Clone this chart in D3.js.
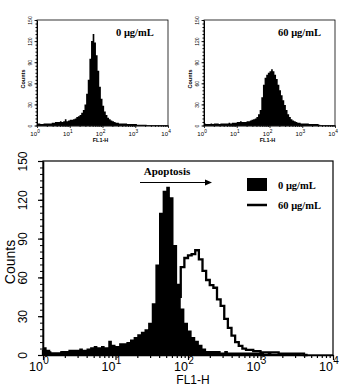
<!DOCTYPE html>
<html>
<head>
<meta charset="utf-8">
<script src="https://cdn.jsdelivr.net/npm/d3@7/dist/d3.min.js"></script>
<style>
  body { margin: 0; background: #fff; }
  svg { display: block; }
</style>
</head>
<body>
<svg id="chart"></svg>
<script>
// each bin is 0.05 decade wide, first bin starts at 10^0
const binStep = 0.05;
const yTicks = [0, 30, 60, 90, 120, 150];
const xDecades = [0, 1, 2, 3, 4];

// top left panel, 0 ug/mL
const ctrlSmall = [3, 3, 2, 2, 3, 3, 3, 3, 3, 4, 4, 5, 5, 5, 6, 5, 6, 9, 6, 7,
    8, 8, 9, 10, 12, 13, 15, 18, 22, 30, 45, 65, 95, 120, 130, 118, 100, 78, 55, 38,
    28, 20, 15, 11, 9, 7, 6, 5, 4, 4, 3, 3, 3, 3, 3, 2, 2, 2, 2, 2,
    2, 1, 1, 1, 1, 1, 1, 0];
// top right panel, 60 ug/mL
const treatedSmall = [3, 2, 2, 2, 3, 2, 3, 3, 3, 2, 3, 3, 3, 3, 3, 4, 3, 4, 4, 4,
    5, 5, 6, 5, 5, 5, 6, 6, 7, 8, 9, 10, 12, 16, 22, 40, 58, 68, 72, 75,
    77, 80, 77, 72, 66, 58, 50, 43, 36, 29, 22, 16, 12, 9, 7, 6, 5, 4, 4, 3,
    3, 3, 3, 3, 2, 2, 2, 2, 2, 2, 1, 0];
// bottom panel, overlay
const ctrlMain = [6, 4, 2, 2, 2, 3, 3, 4, 4, 4, 5, 4, 5, 6, 7, 6, 7, 6, 11, 8,
    7, 9, 9, 10, 12, 14, 16, 18, 20, 25, 40, 70, 110, 127, 130, 122, 85, 55, 36, 25,
    19, 14, 11, 8, 5, 3, 3, 3, 3, 2, 3, 2, 2, 2, 2, 2, 2, 2, 2, 2,
    2, 1, 2, 1, 1, 1, 1, 1, 1, 1, 1, 0];
const treatedMain = [3, 2, 1, 1, 1, 2, 2, 2, 2, 2, 3, 2, 3, 3, 3, 3, 3, 3, 4, 4,
    4, 4, 5, 5, 6, 7, 8, 10, 12, 14, 15, 22, 30, 36, 40, 43, 44, 45, 68, 75,
    77, 78, 81, 74, 65, 58, 54, 52, 43, 38, 28, 21, 15, 10, 7, 5, 4, 4, 3, 3,
    2, 2, 2, 2, 2, 1, 1, 1, 1, 1, 1, 1, 0];
const legendLabels = ["0 \u03bcg/mL", "60 \u03bcg/mL"];

const narrow = "'Liberation Sans Narrow', 'Arial Narrow', 'Liberation Sans', Arial, sans-serif";
const sans = "'Liberation Sans', Arial, sans-serif";
const serif = "'Liberation Serif', 'Times New Roman', serif";

const svg = d3.select("#chart").attr("width", 346).attr("height", 390);
svg.append("rect").attr("width", 346).attr("height", 390).attr("fill", "#fff");

function histPath(counts, x, y) {
    const pts = [[x(1), y(0)]];
    counts.forEach((c, i) => {
        pts.push([x(Math.pow(10, i * binStep)), y(c)]);
        pts.push([x(Math.pow(10, (i + 1) * binStep)), y(c)]);
    });
    pts.push([x(Math.pow(10, counts.length * binStep)), y(0)]);
    return d3.line()(pts);
}

function drawPanel(cfg) {
    const g = svg.append("g");
    const x = d3.scaleLog().domain([1, 1e4]).range([cfg.left, cfg.right]);
    const y = d3.scaleLinear().domain([0, 150]).range([cfg.bottom, cfg.top]);

    // frame
    g.append("rect")
        .attr("x", cfg.left).attr("y", cfg.top)
        .attr("width", cfg.right - cfg.left).attr("height", cfg.bottom - cfg.top)
        .attr("fill", "none").attr("stroke", "#000").attr("stroke-width", cfg.frame);

    // y axis: minor then major
    const yMinor = d3.axisLeft(y).tickValues(d3.range(0, 151, 5)).tickFormat("")
        .tickSize(cfg.minorLen).tickSizeOuter(0);
    const yMajor = d3.axisLeft(y).tickValues(yTicks).tickSize(cfg.majorLen).tickSizeOuter(0);
    g.append("g").attr("transform", `translate(${cfg.left},0)`).call(yMinor)
        .call(a => a.select(".domain").remove());
    const ya = g.append("g").attr("transform", `translate(${cfg.left},0)`).call(yMajor);
    ya.select(".domain").attr("stroke-width", cfg.axisW);
    ya.selectAll("line").attr("stroke-width", cfg.tickW);
    ya.selectAll("text")
        .attr("x", 0).attr("dy", 0)
        .attr("transform", `translate(${-cfg.yLabelOff},0) rotate(-90)`)
        .attr("text-anchor", "middle")
        .attr("font-family", narrow).attr("font-size", cfg.yFont).attr("fill", "#000");

    // x axis: log minor ticks
    const minorVals = [];
    xDecades.slice(0, -1).forEach(d => {
        for (let m = 2; m < 10; m++) minorVals.push(m * Math.pow(10, d));
    });
    const xMinor = d3.axisBottom(x).tickValues(minorVals).tickFormat("")
        .tickSize(cfg.minorLen).tickSizeOuter(0);
    const xMajor = d3.axisBottom(x).tickValues(xDecades.map(d => Math.pow(10, d)))
        .tickFormat("").tickSize(cfg.majorLen).tickSizeOuter(0);
    g.append("g").attr("transform", `translate(0,${cfg.bottom})`).call(xMinor)
        .call(a => a.select(".domain").remove())
        .selectAll("line").attr("stroke-width", cfg.tickW);
    const xa = g.append("g").attr("transform", `translate(0,${cfg.bottom})`).call(xMajor);
    xa.select(".domain").attr("stroke-width", cfg.axisW);
    xa.selectAll("line").attr("stroke-width", cfg.tickW);

    xDecades.forEach(d => {
        const px = x(Math.pow(10, d));
        g.append("text").attr("x", px).attr("y", cfg.bottom + cfg.xLabelDy)
            .attr("text-anchor", "end").attr("font-family", sans)
            .attr("font-size", cfg.xFont).text("10");
        g.append("text").attr("x", px + 0.3).attr("y", cfg.bottom + cfg.xLabelDy - cfg.xFont * 0.5)
            .attr("text-anchor", "start").attr("font-family", sans)
            .attr("font-size", cfg.xFont * 0.8).text(d);
    });

    g.append("text")
        .attr("x", x(100) + cfg.titleDx).attr("y", cfg.bottom + cfg.titleDy)
        .attr("text-anchor", "middle").attr("font-family", sans)
        .attr("font-size", cfg.titleFont).attr("font-weight", cfg.titleWeight)
        .text("FL1-H");

    g.append("text")
        .attr("transform", `translate(${cfg.countsX},${cfg.countsY}) rotate(-90)`)
        .attr("text-anchor", "middle").attr("font-family", narrow)
        .attr("font-size", cfg.countsFont).attr("font-weight", cfg.titleWeight)
        .text("Counts");

    return { g, x, y };
}

const small = {
    top: 20, bottom: 125.5, frame: 0.8, axisW: 1, tickW: 0.8,
    minorLen: 1.5, majorLen: 2.5, yLabelOff: 5, yFont: 5,
    xLabelDy: 10.5, xFont: 6, titleDx: -2, titleDy: 16, titleFont: 5.5,
    titleWeight: "bold", countsY: 79, countsFont: 5.5
};

// top left
const p1 = drawPanel(Object.assign({}, small, { left: 37, right: 168, countsX: 25 }));
p1.g.append("path").attr("d", histPath(ctrlSmall, p1.x, p1.y)).attr("fill", "#000");
p1.g.append("text").attr("x", 116).attr("y", 36)
    .attr("font-family", serif).attr("font-weight", "bold").attr("font-size", 10.5)
    .text(legendLabels[0]);

// top right
const p2 = drawPanel(Object.assign({}, small, { left: 204, right: 335, countsX: 192 }));
p2.g.append("path").attr("d", histPath(treatedSmall, p2.x, p2.y)).attr("fill", "#000");
p2.g.append("text").attr("x", 278).attr("y", 36)
    .attr("font-family", serif).attr("font-weight", "bold").attr("font-size", 10.5)
    .text(legendLabels[1]);

// bottom overlay
const p3 = drawPanel({
    left: 43, right: 333, top: 161, bottom: 355, frame: 1.2, axisW: 1.6, tickW: 1.2,
    minorLen: 3, majorLen: 5, yLabelOff: 16, yFont: 12,
    xLabelDy: 15.5, xFont: 12.5, titleDx: 5, titleDy: 29, titleFont: 12,
    titleWeight: "normal", countsX: 15, countsY: 262, countsFont: 14
});
p3.g.insert("path", ":first-child").attr("d", histPath(treatedMain, p3.x, p3.y))
    .attr("fill", "none").attr("stroke", "#000").attr("stroke-width", 2.3)
    .attr("stroke-linejoin", "miter");
p3.g.append("path").attr("d", histPath(ctrlMain, p3.x, p3.y)).attr("fill", "#000");

// apoptosis arrow
p3.g.append("text").attr("x", 167).attr("y", 175).attr("text-anchor", "middle")
    .attr("font-family", serif).attr("font-weight", "bold").attr("font-size", 11)
    .text("Apoptosis");
p3.g.append("line").attr("x1", 140).attr("x2", 206).attr("y1", 182.5).attr("y2", 182.5)
    .attr("stroke", "#000").attr("stroke-width", 1.2);
p3.g.append("path").attr("d", "M205,179.5L212,182.5L205,185.5Z").attr("fill", "#000");

// legend
const legend = p3.g.append("g");
legend.append("rect").attr("x", 247).attr("y", 178).attr("width", 20).attr("height", 13).attr("fill", "#000");
legend.append("line").attr("x1", 247).attr("x2", 267).attr("y1", 205).attr("y2", 205)
    .attr("stroke", "#000").attr("stroke-width", 2.5);
legendLabels.forEach((t, i) => {
    legend.append("text").attr("x", 278).attr("y", 189 + i * 20)
        .attr("font-family", serif).attr("font-weight", "bold").attr("font-size", 10.5)
        .text(t);
});
</script>
</body>
</html>
